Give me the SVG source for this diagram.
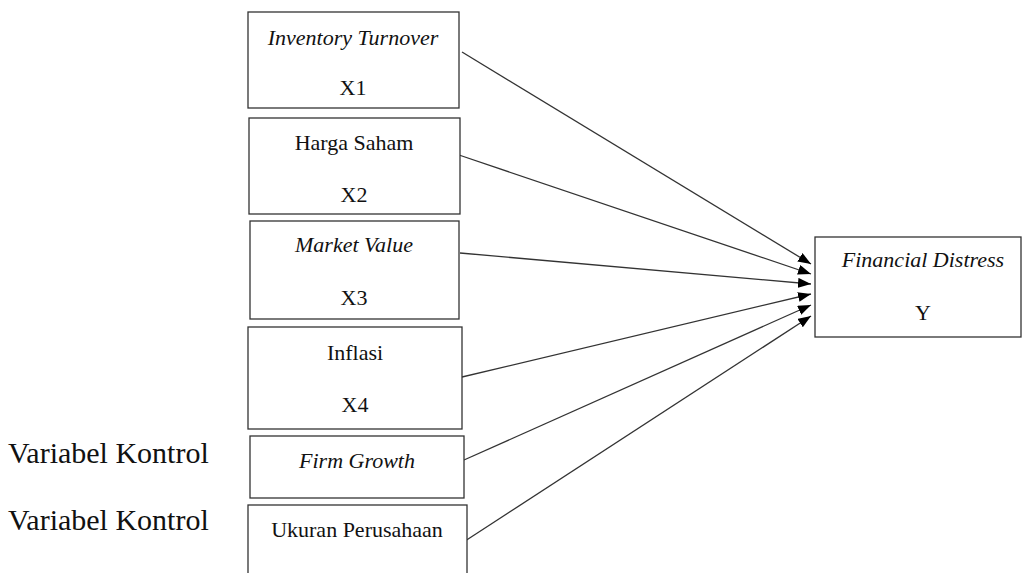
<svg xmlns="http://www.w3.org/2000/svg" width="1022" height="573" viewBox="0 0 1022 573">
<style>
.box{fill:#fff;stroke:#333;stroke-width:1.3}
.t{font-family:"Liberation Serif","Times New Roman",serif;font-size:22px;fill:#111;text-anchor:middle}
.i{font-style:italic}
.side{font-family:"Liberation Serif","Times New Roman",serif;font-size:30px;fill:#111}
.c{stroke:#333;stroke-width:1.3;fill:none;marker-end:url(#ah)}
</style>
<defs>
<marker id="ah" markerUnits="userSpaceOnUse" markerWidth="14" markerHeight="10" refX="13" refY="5" orient="auto">
<path d="M0,0 L13,5 L0,10 z" fill="#000"/>
</marker>
</defs>
<rect width="1022" height="573" fill="#fff"/>
<g id="connectors">
<line class="c" x1="462" y1="52" x2="811" y2="264"/>
<line class="c" x1="459" y1="155" x2="811" y2="274"/>
<line class="c" x1="460" y1="253" x2="811" y2="284"/>
<line class="c" x1="462" y1="377" x2="811" y2="294"/>
<line class="c" x1="464" y1="460" x2="811" y2="305"/>
<line class="c" x1="462" y1="543" x2="811" y2="316"/>
</g>
<g id="x1">
<rect class="box" x="248" y="12" width="211" height="96"/>
<text class="t i" x="353" y="45">Inventory Turnover</text>
<text class="t" x="353" y="95">X1</text>
</g>
<g id="x2">
<rect class="box" x="249" y="118" width="211" height="96"/>
<text class="t" x="354" y="150">Harga Saham</text>
<text class="t" x="354" y="202">X2</text>
</g>
<g id="x3">
<rect class="box" x="250" y="221" width="209" height="98"/>
<text class="t i" x="354" y="252">Market Value</text>
<text class="t" x="354" y="305">X3</text>
</g>
<g id="x4">
<rect class="box" x="248" y="327" width="214" height="102"/>
<text class="t" x="355" y="360">Inflasi</text>
<text class="t" x="355" y="412">X4</text>
</g>
<g id="firm-growth">
<rect class="box" x="250" y="436" width="214" height="62"/>
<text class="t i" x="357" y="468">Firm Growth</text>
</g>
<g id="ukuran">
<rect class="box" x="248" y="505" width="219" height="80"/>
<text class="t" x="357" y="537">Ukuran Perusahaan</text>
</g>
<g id="y">
<rect class="box" x="815" y="237" width="206" height="100"/>
<text class="t i" x="923" y="267">Financial Distress</text>
<text class="t" x="923" y="320">Y</text>
</g>
<g id="labels">
<text class="side" x="8" y="463">Variabel Kontrol</text>
<text class="side" x="8" y="530">Variabel Kontrol</text>
</g>
</svg>
